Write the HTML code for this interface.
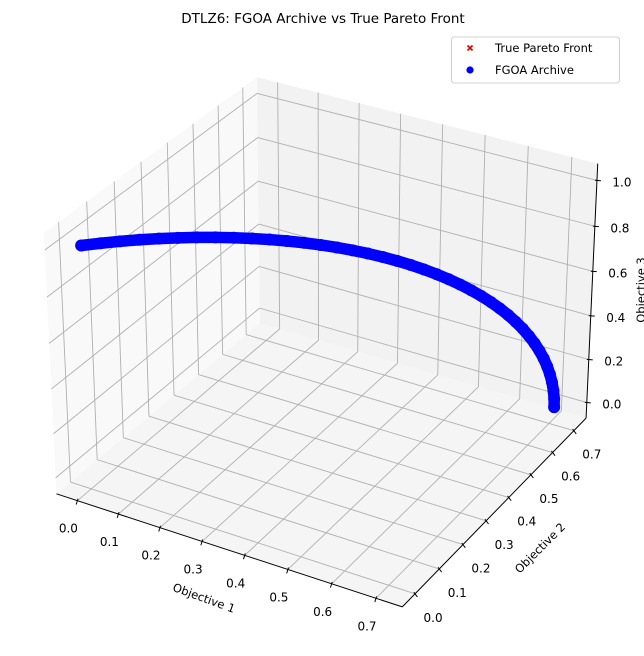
<!DOCTYPE html>
<html><head><meta charset="utf-8"><style>
html,body{margin:0;padding:0;background:#fff;}
svg{display:block;font-family:"DejaVu Sans","Liberation Sans",sans-serif;}
</style></head><body>
<svg id="chart" width="644" height="656" viewBox="0 0 644 656" xmlns="http://www.w3.org/2000/svg">
<text x="323" y="23" font-size="13.5" text-anchor="middle" fill="#000">DTLZ6: FGOA Archive vs True Pareto Front</text>
<g id="panes"></g>
<g id="grid"></g>
<g id="axes"></g>
<g id="data"></g>
<text x="204" y="602" font-size="11.5" text-anchor="middle" transform="rotate(20 204 598)">Objective 1</text>
<text x="540" y="552" font-size="11.5" text-anchor="middle" transform="rotate(-45 540 548)">Objective 2</text>
<text x="641" y="294" font-size="11.5" text-anchor="middle" transform="rotate(-90 641 290)">Objective 3</text>
<g>
<rect x="451.5" y="37" width="168" height="46" rx="3" fill="#fff" fill-opacity="0.8" stroke="#d0d0d0" stroke-width="1"/>
<g>
<path d="M467.5 45.5 L472.5 50.5 M472.5 45.5 L467.5 50.5" stroke="#e00000" stroke-width="1.6"/>
<text x="495" y="52" font-size="11.5">True Pareto Front</text>
</g>
<g>
<circle cx="470" cy="70" r="3.6" fill="#0000ff"/>
<text x="495" y="74" font-size="11.5">FGOA Archive</text>
</g>
</g>
</svg>
<script>
const xTicks = [0,0.1,0.2,0.3,0.4,0.5,0.6,0.7];
const yTicks = [0,0.1,0.2,0.3,0.4,0.5,0.6,0.7];
const zTicks = [0,0.2,0.4,0.6,0.8,1.0];
const xTickLabels = ['0.0','0.1','0.2','0.3','0.4','0.5','0.6','0.7'];
const yTickLabels = ['0.0','0.1','0.2','0.3','0.4','0.5','0.6','0.7'];
const zTickLabels = ['0.0','0.2','0.4','0.6','0.8','1.0'];
const obj1 = [0.7071,0.7066,0.7049,0.7022,0.6984,0.6935,0.6876,0.6806,0.6725,0.6634,0.6533,0.6421,0.6300,0.6170,0.6029,0.5879,0.5721,0.5553,0.5377,0.5192,0.5000,0.4800,0.4592,0.4378,0.4156,0.3928,0.3695,0.3455,0.3210,0.2960,0.2706,0.2447,0.2185,0.1919,0.1651,0.1380,0.1106,0.0831,0.0555,0.0278,0.0];
const obj2 = [0.7071,0.7066,0.7049,0.7022,0.6984,0.6935,0.6876,0.6806,0.6725,0.6634,0.6533,0.6421,0.6300,0.6170,0.6029,0.5879,0.5721,0.5553,0.5377,0.5192,0.5000,0.4800,0.4592,0.4378,0.4156,0.3928,0.3695,0.3455,0.3210,0.2960,0.2706,0.2447,0.2185,0.1919,0.1651,0.1380,0.1106,0.0831,0.0555,0.0278,0.0];
const obj3 = [0,0.0393,0.0785,0.1175,0.1564,0.1951,0.2335,0.2714,0.3090,0.3461,0.3827,0.4187,0.4540,0.4886,0.5225,0.5556,0.5878,0.6191,0.6495,0.6788,0.7071,0.7343,0.7604,0.7853,0.8090,0.8315,0.8526,0.8725,0.8910,0.9081,0.9239,0.9382,0.9511,0.9625,0.9724,0.9808,0.9877,0.9931,0.9969,0.9992,1.0];

const XL=[-0.0516,0.7587], YL=[-0.0516,0.7587], ZL=[-0.0729,1.0729];
const A=[1.1905,1.1905,0.8929];
const el=Math.PI/6, az=-Math.PI/3;
const w=[Math.cos(el)*Math.cos(az),Math.cos(el)*Math.sin(az),Math.sin(el)];
const eye=[A[0]/2+10*w[0],A[1]/2+10*w[1],A[2]/2+10*w[2]];
let u=[-w[1],w[0],0]; const nu=Math.hypot(u[0],u[1]); u=[u[0]/nu,u[1]/nu,0];
const v=[w[1]*u[2]-w[2]*u[1], w[2]*u[0]-w[0]*u[2], w[0]*u[1]-w[1]*u[0]];
function cam(x,y,z){
  const p=[(x-XL[0])/(XL[1]-XL[0])*A[0]-eye[0],(y-YL[0])/(YL[1]-YL[0])*A[1]-eye[1],(z-ZL[0])/(ZL[1]-ZL[0])*A[2]-eye[2]];
  const d=(a)=>a[0]*p[0]+a[1]*p[1]+a[2]*p[2];
  const zv=-d(w); return [d(u)/zv,d(v)/zv];
}
const cal=[[XL[0],YL[0],ZL[0],56,494],[XL[1],YL[0],ZL[0],402.7,606.7],[XL[1],YL[1],ZL[0],586.7,418.3],[XL[1],YL[1],ZL[1],597,163.3],[XL[0],YL[1],ZL[1],256.7,77.3],[XL[0],YL[0],ZL[1],44.3,232.7]];
function fit(pairs){let n=pairs.length,sx=0,sy=0,sxx=0,sxy=0;for(const[a,b]of pairs){sx+=a;sy+=b;sxx+=a*a;sxy+=a*b;}const k=(n*sxy-sx*sy)/(n*sxx-sx*sx);return [k,(sy-k*sx)/n];}
const fx=fit(cal.map(c=>[cam(c[0],c[1],c[2])[0],c[3]]));
const fy=fit(cal.map(c=>[cam(c[0],c[1],c[2])[1],c[4]]));
function P(x,y,z){const c=cam(x,y,z);return [fx[0]*c[0]+fx[1],fy[0]*c[1]+fy[1]];}
const NS='http://www.w3.org/2000/svg';
function mk(tag,parent,attrs){const e=document.createElementNS(NS,tag);for(const k in attrs)e.setAttribute(k,attrs[k]);parent.appendChild(e);return e;}
function poly(pts){return pts.map(p=>P(...p).map(n=>n.toFixed(2)).join(',')).join(' ');}
const panes=document.getElementById('panes'),grid=document.getElementById('grid'),axes=document.getElementById('axes'),data=document.getElementById('data');
let e;
e=mk('polygon',panes,{points:poly([[XL[0],YL[0],ZL[0]],[XL[0],YL[1],ZL[0]],[XL[0],YL[1],ZL[1]],[XL[0],YL[0],ZL[1]]]),fill:'#f9f9f9'});


e=mk('polygon',panes,{points:poly([[XL[0],YL[1],ZL[0]],[XL[1],YL[1],ZL[0]],[XL[1],YL[1],ZL[1]],[XL[0],YL[1],ZL[1]]]),fill:'#f2f2f2'});


e=mk('polygon',panes,{points:poly([[XL[0],YL[0],ZL[0]],[XL[1],YL[0],ZL[0]],[XL[1],YL[1],ZL[0]],[XL[0],YL[1],ZL[0]]]),fill:'#f5f5f5'});


function gl(a,b,name){const e=mk('polyline',grid,{points:poly([a,b]),stroke:'#b0b0b0','stroke-width':0.9,fill:'none'});

}
xTicks.forEach(x=>{gl([x,YL[0],ZL[0]],[x,YL[1],ZL[0]],'grid-floor-x');gl([x,YL[1],ZL[0]],[x,YL[1],ZL[1]],'grid-wall-x');});
yTicks.forEach(y=>{gl([XL[0],y,ZL[0]],[XL[1],y,ZL[0]],'grid-floor-y');gl([XL[0],y,ZL[0]],[XL[0],y,ZL[1]],'grid-wall-y');});
zTicks.forEach(z=>{gl([XL[0],YL[0],z],[XL[0],YL[1],z],'grid-wall-z');gl([XL[0],YL[1],z],[XL[1],YL[1],z],'grid-wall-z2');});
function axisLine(a,b,name){const e=mk('polyline',axes,{points:poly([a,b]),stroke:'#000','stroke-width':1,fill:'none'});

}
axisLine([XL[0],YL[0],ZL[0]],[XL[1],YL[0],ZL[0]],'x-axis-line');
axisLine([XL[1],YL[0],ZL[0]],[XL[1],YL[1],ZL[0]],'y-axis-line');
axisLine([XL[1],YL[1],ZL[0]],[XL[1],YL[1],ZL[1]],'z-axis-line');
function tick(pt,off,label,name){
  const L=Math.hypot(off[0],off[1]),dx=off[0]/L,dy=off[1]/L;
  const t=mk('line',axes,{x1:pt[0]-2*dx,y1:pt[1]-2*dy,x2:pt[0]+4*dx,y2:pt[1]+4*dy,stroke:'#000','stroke-width':1});
  
  
  const s=mk('text',axes,{x:pt[0]+off[0],y:pt[1]+off[1]+4,'font-size':12,'text-anchor':'middle',fill:'#000'});
  s.textContent=label;
  
  
}
xTicks.forEach((x,i)=>tick(P(x,YL[0],ZL[0]),[-9,28],xTickLabels[i],'x-tick'));
yTicks.forEach((y,i)=>tick(P(XL[1],y,ZL[0]),[18,24],yTickLabels[i],'y-tick'));
zTicks.forEach((z,i)=>tick(P(XL[1],YL[1],z),[25,2],zTickLabels[i],'z-tick'));
obj1.forEach((a,i)=>{const p=P(a,obj2[i],obj3[i]);const m=mk('path',data,{d:`M${p[0]-2.5} ${p[1]-2.5}L${p[0]+2.5} ${p[1]+2.5}M${p[0]+2.5} ${p[1]-2.5}L${p[0]-2.5} ${p[1]+2.5}`,stroke:'#e00000','stroke-width':1.4});

});
const line=mk('polyline',data,{points:obj1.map((a,i)=>P(a,obj2[i],obj3[i]).join(',')).join(' '),stroke:'#0000ff','stroke-width':11.5,fill:'none','stroke-linecap':'round','stroke-linejoin':'round'});


obj1.forEach((a,i)=>{const p=P(a,obj2[i],obj3[i]);const c=mk('circle',data,{cx:p[0],cy:p[1],r:6,fill:'#0000ff'});

});
</script>
</body></html>
